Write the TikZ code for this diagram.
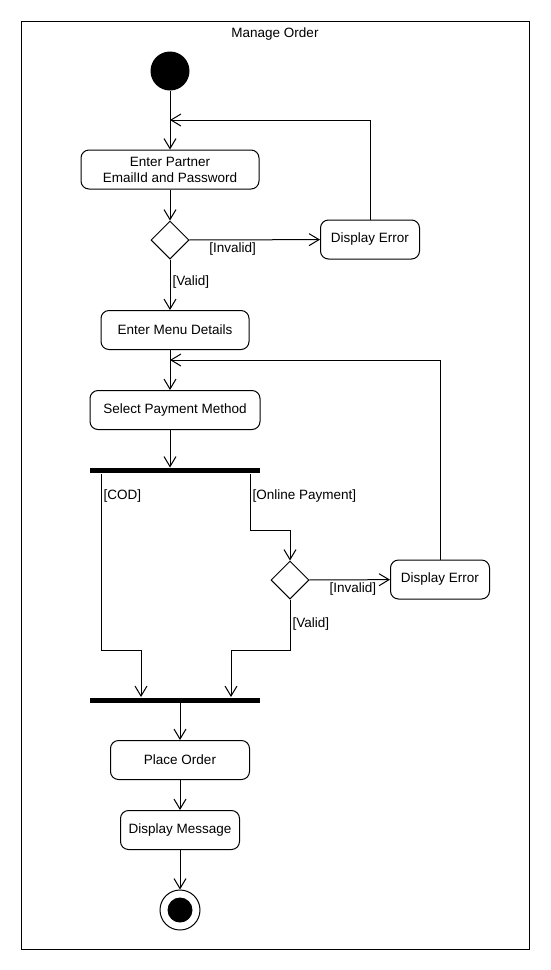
\documentclass[tikz,border=0pt]{standalone}
\usepackage{fontspec}
\setmainfont{Liberation Sans}
\usetikzlibrary{arrows.meta,shapes.geometric}

\begin{document}
\begin{tikzpicture}[x=1pt,y=-1pt,line width=1pt,
    font=\fontsize{13.5}{16}\selectfont,
    act/.style={draw, rounded corners=8pt, minimum height=39pt,
      align=center, inner sep=0pt},
    dec/.style={draw, diamond, minimum width=38pt, minimum height=38pt,
      inner sep=0pt},
    bar/.style={fill=black, minimum width=170pt, minimum height=5pt,
      inner sep=0pt},
    flow/.style={-{Straight Barb[length=10pt,width=12pt]}},
    guard/.style={inner sep=2pt}]
  \useasboundingbox (0,0) rectangle (550,970);
  % frame and title
  \node[draw, minimum width=508pt, minimum height=928pt, inner sep=0pt]
    (frame) at (275,485) {};
  \node (title) at (275,34) {Manage Order};
  % nodes
  \node[circle, fill, minimum size=39pt, inner sep=0pt] (start) at (170,71) {};
  \node[act, minimum width=178pt] (login) at (170,169.5)
    {Enter Partner\\EmailId and Password};
  \node[dec] (dec1) at (170,240) {};
  \node[act, minimum width=99pt] (err1) at (370,239.5) {Display Error};
  \node[act, minimum width=148pt] (menu) at (175,330) {Enter Menu Details};
  \node[act, minimum width=170pt] (pay) at (175,410) {Select Payment Method};
  \node[bar] (fork) at (175,470.5) {};
  \node[dec] (dec2) at (290,580) {};
  \node[act, minimum width=99pt] (err2) at (440,579.5) {Display Error};
  \node[bar] (join) at (175,700) {};
  \node[act, minimum width=139pt] (place) at (180,760) {Place Order};
  \node[act, minimum width=119pt] (msg) at (180,830) {Display Message};
  \node[circle, draw, minimum size=40pt, inner sep=0pt] (end) at (180,910) {};
  \node[circle, fill, minimum size=25pt, inner sep=0pt] (endin) at (end) {};
  \coordinate (m1) at (170,120);
  \coordinate (m2) at (170,360);
  % connectors
  \draw[flow] (start) -- (login);
  \draw[flow] (login) -- (dec1);
  \draw[flow] (dec1) -- node[guard, below, pos=0.33] {[Invalid]} (err1);
  \draw[flow] (err1.north) |- (m1);
  \draw[flow] (dec1) -- node[guard, anchor=west, pos=0.45] {[Valid]}
    (menu.north -| dec1);
  \draw[flow] (menu.south -| m2) -- (pay.north -| m2);
  \draw[flow] (pay.south -| m2) -- (fork.north -| m2);
  \draw[flow] ([xshift=-74pt]fork.south) -- node[guard, anchor=west, pos=0.125]
    {[COD]} ++(0,177) -| ([xshift=-34pt]join.north);
  \draw[flow] ([xshift=75pt]fork.south) -- node[guard, anchor=west, pos=0.39]
    {[Online Payment]} ++(0,57) -| (dec2);
  \draw[flow] (dec2) -- node[guard, below, pos=0.54] {[Invalid]} (err2);
  \draw[flow] (err2.north) |- (m2);
  \draw[flow] (dec2.south) -- node[guard, anchor=west, pos=0.49] {[Valid]}
    ++(0,51) -| ([xshift=56pt]join.north);
  \draw[flow] (join.south -| place) -- (place);
  \draw[flow] (place) -- (msg);
  \draw[flow] (msg) -- (end);
\end{tikzpicture}
\end{document}
